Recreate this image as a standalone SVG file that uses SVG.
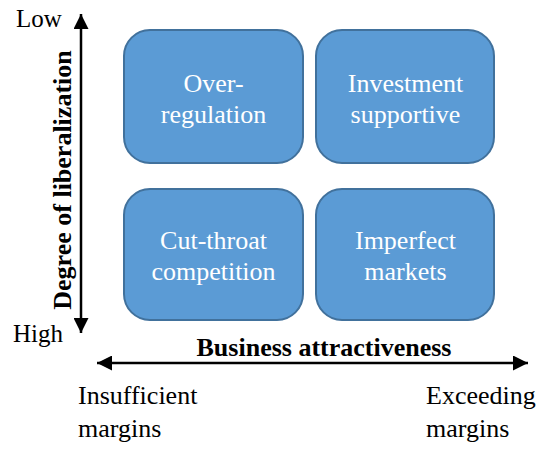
<svg xmlns="http://www.w3.org/2000/svg" width="550" height="453" viewBox="0 0 550 453">
<style>
.box{fill:#5B9BD5;stroke:#41719C;stroke-width:2}
text{font-family:'Liberation Serif','Times New Roman',Times,serif}
.bt{font-size:26px;fill:#fff;text-anchor:middle}
.lbl{font-size:26px;fill:#000}
.ax{font-size:26px;font-weight:bold;fill:#000;text-anchor:middle}
.line{stroke:#000;stroke-width:2.5;fill:none}
</style>
<defs>
<marker id="ah" viewBox="0 0 10 10" refX="10" refY="5" markerWidth="6" markerHeight="6" markerUnits="strokeWidth" orient="auto-start-reverse">
<path d="M0,0 L10,5 L0,10 z" fill="#000"/>
</marker>
</defs>
<g id="connectors">
<line class="line" x1="81" y1="14" x2="81" y2="333" marker-start="url(#ah)" marker-end="url(#ah)"/>
<line class="line" x1="97" y1="363" x2="528" y2="363" marker-start="url(#ah)" marker-end="url(#ah)"/>
</g>
<g id="n1"><rect class="box" x="124" y="30" width="179" height="133" rx="26"/>
<text class="bt" x="213.5" y="92">Over-</text><text class="bt" x="213.5" y="123">regulation</text></g>
<g id="n2"><rect class="box" x="316" y="30" width="178" height="133" rx="26"/>
<text class="bt" x="405.5" y="92">Investment</text><text class="bt" x="405.5" y="123">supportive</text></g>
<g id="n3"><rect class="box" x="124" y="189" width="179" height="131" rx="26"/>
<text class="bt" x="213.5" y="249">Cut-throat</text><text class="bt" x="213.5" y="280">competition</text></g>
<g id="n4"><rect class="box" x="316" y="189" width="178" height="131" rx="26"/>
<text class="bt" x="405.5" y="249">Imperfect</text><text class="bt" x="405.5" y="280">markets</text></g>
<text class="lbl" x="16" y="27" style="font-size:25px">Low</text>
<text class="lbl" x="13" y="342" style="font-size:25px">High</text>
<text class="ax" transform="translate(71,180) rotate(-90)">Degree of liberalization</text>
<text class="ax" x="324" y="356">Business attractiveness</text>
<text class="lbl" x="78" y="404">Insufficient</text>
<text class="lbl" x="78" y="437">margins</text>
<text class="lbl" x="426" y="404">Exceeding</text>
<text class="lbl" x="426" y="437">margins</text>
</svg>
